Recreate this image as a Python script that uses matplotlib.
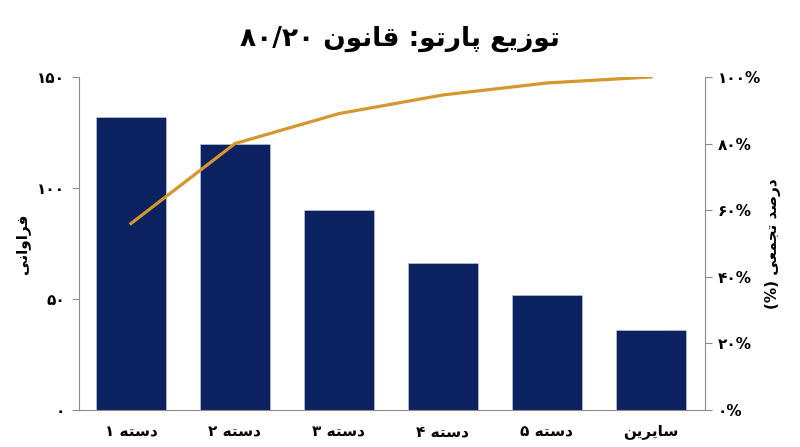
import re
import matplotlib
matplotlib.use("Agg")
import matplotlib.pyplot as plt
from matplotlib.ticker import FixedLocator

# data
categories = ["دسته ۱", "دسته ۲", "دسته ۳", "دسته ۴", "دسته ۵", "سایرین"]
counts = [132, 120, 90, 66, 52, 36]
cum_pct = [56, 80, 89, 94.6, 98.2, 100]
left_ticks = [0, 50, 100, 150]
right_ticks = [0, 20, 40, 60, 80, 100]

title = "توزیع پارتو: قانون ۸۰/۲۰"
ylabel_left = "فراوانی"
ylabel_right = "درصد تجمعی (%)"

# minimal persian shaping (matplotlib has no arabic shaping)
FORMS = {  # isolated, final, initial, medial
    "\u0627": ("\uFE8D", "\uFE8E", None, None),
    "\u062A": ("\uFE95", "\uFE96", "\uFE97", "\uFE98"),
    "\u062C": ("\uFE9D", "\uFE9E", "\uFE9F", "\uFEA0"),
    "\u062F": ("\uFEA9", "\uFEAA", None, None),
    "\u0631": ("\uFEAD", "\uFEAE", None, None),
    "\u0632": ("\uFEAF", "\uFEB0", None, None),
    "\u0633": ("\uFEB1", "\uFEB2", "\uFEB3", "\uFEB4"),
    "\u0635": ("\uFEB9", "\uFEBA", "\uFEBB", "\uFEBC"),
    "\u0639": ("\uFEC9", "\uFECA", "\uFECB", "\uFECC"),
    "\u0641": ("\uFED1", "\uFED2", "\uFED3", "\uFED4"),
    "\u0642": ("\uFED5", "\uFED6", "\uFED7", "\uFED8"),
    "\u0645": ("\uFEE1", "\uFEE2", "\uFEE3", "\uFEE4"),
    "\u0646": ("\uFEE5", "\uFEE6", "\uFEE7", "\uFEE8"),
    "\u0647": ("\uFEE9", "\uFEEA", "\uFEEB", "\uFEEC"),
    "\u0648": ("\uFEED", "\uFEEE", None, None),
    "\u067E": ("\uFB56", "\uFB57", "\uFB58", "\uFB59"),
    "\u06CC": ("\uFBFC", "\uFBFD", "\uFBFE", "\uFBFF"),
}


def dual(c):
    return c in FORMS and FORMS[c][2] is not None


def fa(s):
    out = []
    for i, c in enumerate(s):
        if c not in FORMS:
            out.append(c)
            continue
        prev = s[i - 1] if i > 0 else ""
        nxt = s[i + 1] if i + 1 < len(s) else ""
        p = dual(prev)
        n = dual(c) and nxt in FORMS
        iso, fin, ini, med = FORMS[c]
        if p and n:
            out.append(med)
        elif p:
            out.append(fin)
        elif n:
            out.append(ini)
        else:
            out.append(iso)
    vis = "".join(out)[::-1]
    vis = re.sub(r"[0-9\u06F0-\u06F9/]+", lambda m: m.group(0)[::-1], vis)
    return vis.translate(str.maketrans("()", ")("))


def fa_num(v):
    return str(v).translate(str.maketrans("0123456789", "۰۱۲۳۴۵۶۷۸۹"))


plt.rcParams["font.family"] = ["DejaVu Sans"]
plt.rcParams["font.weight"] = "bold"

navy = "#0b2160"
gold = "#d4962e"
grey = "#8c8c8c"

fig = plt.figure(figsize=(8, 4.47), dpi=100)
ax = fig.add_axes([0.09875, 0.0828, 0.7825, 0.745])
x = list(range(len(categories)))
ax.bar(x, counts, width=0.68, color=navy, edgecolor="#c8d0e0", linewidth=0.4, zorder=2)
ax.set_xlim(-0.5, 5.52)
ax.set_ylim(0, 150)
ax.set_xticks(x)
ax.set_xticklabels([fa(c) for c in categories], fontsize=11, fontweight="bold")
ax.yaxis.set_major_locator(FixedLocator(left_ticks))
ax.set_yticklabels([fa_num(t) for t in left_ticks], fontsize=11, fontweight="bold")
ax.tick_params(axis="x", length=0, pad=10)
ax.tick_params(axis="y", length=5, color=grey, pad=5)
for side in ["top", "right"]:
    ax.spines[side].set_visible(False)
for side in ["left", "bottom"]:
    ax.spines[side].set_color(grey)
ax.set_ylabel(fa(ylabel_left), fontsize=11, fontweight="bold", labelpad=5)

ax2 = ax.twinx()
ax2.plot(x, cum_pct, color=gold, linewidth=2.3, zorder=3)
ax2.set_ylim(0, 100)
ax2.yaxis.set_major_locator(FixedLocator(right_ticks))
ax2.set_yticklabels([fa_num(t) + "%" for t in right_ticks], fontsize=11, fontweight="bold")
ax2.tick_params(axis="y", length=5, color=grey, pad=4)
for side in ["top", "left", "bottom"]:
    ax2.spines[side].set_visible(False)
ax2.spines["right"].set_color(grey)
ax2.set_ylabel(fa(ylabel_right), fontsize=11, fontweight="bold", rotation=90, labelpad=3)

fig.text(0.5, 0.912, fa(title), fontsize=19, fontweight="bold", ha="center", va="center")

fig.savefig("out.png", dpi=100)
